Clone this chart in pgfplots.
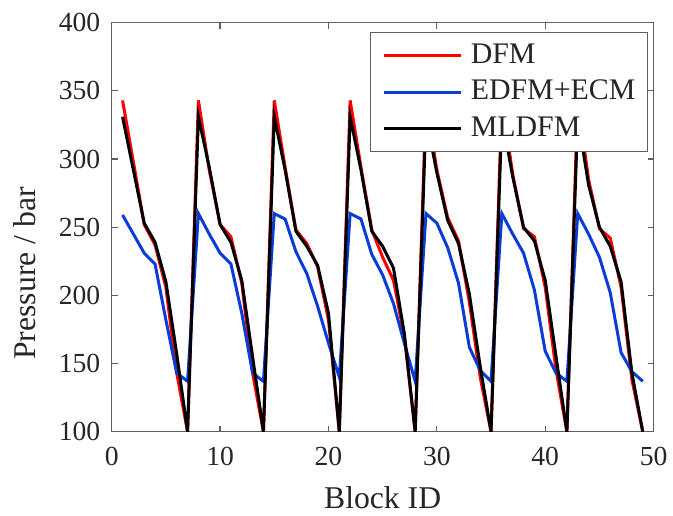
\documentclass[border=0pt]{standalone}
\usepackage{fontspec}
\setmainfont{Liberation Serif}
\usepackage{pgfplots}
\usepackage{pgfplotstable}
\pgfplotsset{compat=1.18}
\definecolor{dfmred}{RGB}{255,0,0}
\definecolor{edfmblue}{RGB}{10,60,215}
\definecolor{axgray}{RGB}{95,95,95}
\definecolor{txt}{RGB}{38,38,38}

\pgfplotstableread{
x dfm edfm ml
1 343 259 331
2 298 245 292
3 252 231 253
4 237 223 239
5 206 182 210
6 143 143 157
7 100 137 100
8 343 260 331
9 292 245 294
10 252 231 252
11 243 223 239
12 209 187 211
13 143 143 155
14 100 137 100
15 343 260 331
16 294 256 292
17 248 232 247
18 238 216 236
19 221 192 222
20 182 165 187
21 100 140 100
22 343 260 331
23 294 256 292
24 248 230 247
25 228 215 236
26 211 194 220
27 170 165 172
28 100 137 100
29 343 260 331
30 292 253 290
31 257 235 255
32 240 209 238
33 195 162 201
34 140 145 148
35 100 137 100
36 343 260 331
37 289 245 287
38 249 231 250
39 243 204 240
40 206 159 211
41 145 143 155
42 100 137 100
43 343 260 331
44 285 245 281
45 249 228 250
46 242 202 236
47 206 158 210
48 138 144 143
49 100 137 100
}\data

\begin{document}
\begin{tikzpicture}
\begin{axis}[
  name=ax,
  width=541.9bp, height=409bp, scale only axis,
  xmin=0, xmax=50, ymin=100, ymax=400,
  xtick={0,10,...,50}, ytick={100,150,...,400},
  tick align=inside, major tick length=6bp,
  axis line style={axgray, line width=1.2bp},
  every tick/.style={axgray, line width=1.2bp},
  tick label style={font=\fontsize{27.7}{30}\selectfont, text=txt},
  /pgf/number format/assume math mode=true,
  yticklabel style={xshift=-8bp},
  xticklabel style={yshift=-12bp},
  xlabel={Block ID}, ylabel={Pressure / bar},
  label style={font=\fontsize{31.8}{36}\selectfont, text=txt},
  xlabel style={at={(axis description cs:0.5,-0.1885)}, anchor=base},
  ylabel style={at={(axis description cs:-0.1415,0.387)}, anchor=base},
  legend image code/.code={\draw[#1] (0bp,0bp) -- (77bp,0bp);},
  legend style={at={(axis description cs:0.9897,0.977)}, anchor=north east,
    draw=axgray, line width=1.2bp, fill=white,
    inner xsep=12bp, inner ysep=4.75bp, column sep=8bp,
    font=\fontsize{30}{36}\selectfont, text=txt,
    nodes={inner xsep=0pt, inner ysep=3.75bp, text height=22bp, text depth=7bp},
    cells={anchor=west}},
]
\addplot[dfmred, line width=3bp] table[x=x, y=dfm] {\data};
\addlegendentry{DFM}
\addplot[edfmblue, line width=3bp] table[x=x, y=edfm] {\data};
\addlegendentry{EDFM+ECM}
\addplot[black, line width=3bp] table[x=x, y=ml] {\data};
\addlegendentry{MLDFM}
\end{axis}
\pgfresetboundingbox
\useasboundingbox ([shift={(-111.7bp,-84.3bp)}]ax.south west) rectangle ++(673bp,516bp);
\end{tikzpicture}
\end{document}
